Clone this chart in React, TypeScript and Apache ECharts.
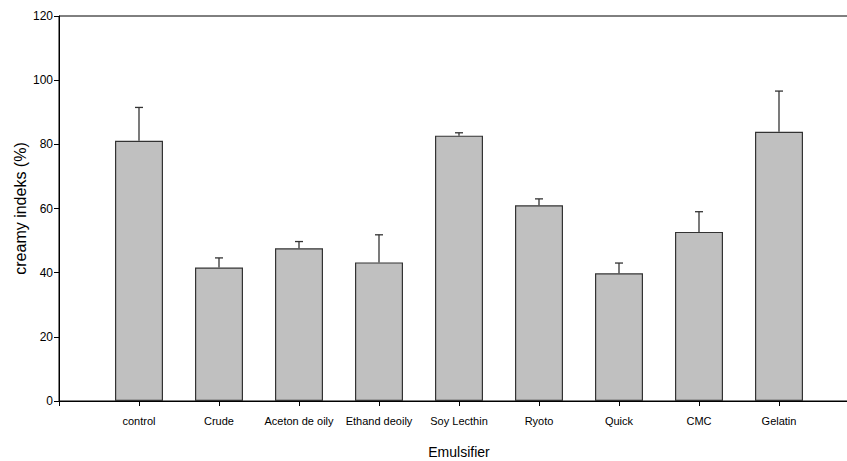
import React, { useEffect, useRef } from "react";
import * as echarts from "echarts";

const categories = ["control", "Crude", "Aceton de oily", "Ethand deoily", "Soy Lecthin", "Ryoto", "Quick", "CMC", "Gelatin"];
const means = [81.1, 41.6, 47.6, 43.2, 82.7, 61.0, 39.8, 52.7, 83.9];
const errors = [10.4, 3.0, 2.1, 8.6, 0.9, 2.0, 3.2, 6.3, 12.7];
const yTicks = [0, 20, 40, 60, 80, 100, 120];

const FONT = "'Liberation Sans', Arial, sans-serif";

export default function App() {
  const ref = useRef<HTMLDivElement>(null);
  useEffect(() => {
    if (!ref.current) return;
    const chart = echarts.init(ref.current, null, { renderer: "svg" });
    const barData = means.map((m, i) => [i + 1, m]);
    const errData = means.map((m, i) => [i + 1, m, m + errors[i]]);
    chart.setOption({
      animation: false,
      grid: {
        left: 59, top: 16, width: 800, height: 385,
        outerBoundsMode: "none", containLabel: false,
        show: true, borderColor: "#000", borderWidth: 1, backgroundColor: "transparent",
      },
      xAxis: {
        type: "value",
        min: 0,
        max: 10,
        interval: 1,
        name: "Emulsifier",
        nameLocation: "middle",
        nameGap: 44,
        nameTextStyle: { fontFamily: FONT, fontSize: 14, color: "#000" },
        axisLine: { show: true, lineStyle: { color: "#000", width: 1 } },
        axisTick: { show: true, length: 5, lineStyle: { color: "#000" } },
        axisLabel: {
          fontFamily: FONT,
          fontSize: 11,
          color: "#000",
          margin: 14,
          formatter: (v: number) => (v >= 1 && v <= 9 ? categories[v - 1] : ""),
        },
        splitLine: { show: false },
      },
      yAxis: {
        type: "value",
        min: yTicks[0],
        max: yTicks[yTicks.length - 1],
        interval: 20,
        name: "creamy indeks (%)",
        nameLocation: "middle",
        nameGap: 31,
        nameMoveOverlap: false,
        nameTextStyle: { fontFamily: FONT, fontSize: 16, color: "#000" },
        axisLine: { show: true, lineStyle: { color: "#000", width: 1 } },
        axisTick: { show: true, length: 5, lineStyle: { color: "#000" } },
        axisLabel: { fontFamily: FONT, fontSize: 12, color: "#000", margin: 6 },
        splitLine: { show: false },
      },
      series: [
        {
          type: "bar",
          data: barData,
          barWidth: 48,
          itemStyle: { color: "#c0c0c0", borderColor: "#333", borderWidth: 1.2 },
          z: 2,
        },
        {
          type: "custom",
          data: errData,
          z: 3,
          encode: { x: 0, y: [1, 2] },
          renderItem: (params: any, api: any) => {
            const x = api.value(0);
            const lo = api.coord([x, api.value(1)]);
            const hi = api.coord([x, api.value(2)]);
            const style = { stroke: "#333", lineWidth: 1.3 };
            return {
              type: "group",
              children: [
                { type: "line", shape: { x1: lo[0], y1: lo[1], x2: hi[0], y2: hi[1] }, style },
                { type: "line", shape: { x1: hi[0] - 4, y1: hi[1], x2: hi[0] + 4, y2: hi[1] }, style },
              ],
            };
          },
        },
      ],
    });
    return () => chart.dispose();
  }, []);
  return <div ref={ref} style={{ position: "absolute", left: 0, top: 0, width: 847, height: 461 }} />;
}
